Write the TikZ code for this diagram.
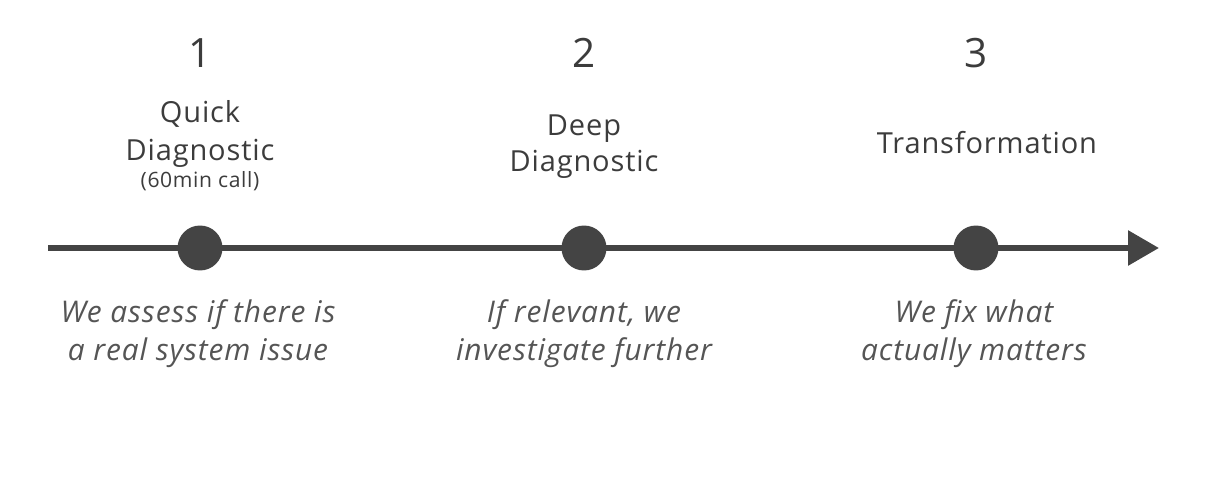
\documentclass[tikz,border=0pt]{standalone}
\usepackage{fontspec}
\setmainfont{Open Sans}
\newfontfamily\widefont[LetterSpace=3]{Open Sans}
\usetikzlibrary{arrows.meta}
\definecolor{darkgrey}{HTML}{444444}
\definecolor{textgrey}{HTML}{3C3C3C}
\definecolor{notegrey}{HTML}{555555}
\tikzset{
  stepdot/.style={circle, fill=darkgrey, inner sep=0pt, minimum size=0.9cm},
  stepnum/.style={anchor=base, text=textgrey, font=\fontsize{23}{27}\selectfont},
  steptitle/.style={anchor=base, text=textgrey, font=\widefont\fontsize{16.5}{19}\selectfont},
  stepsmall/.style={anchor=base, text=textgrey, font=\widefont\fontsize{12}{14}\selectfont},
  stepnote/.style={anchor=base, text=notegrey, font=\widefont\itshape\fontsize{17}{20}\selectfont}
}

\begin{document}
\begin{tikzpicture}[x=0.02cm, y=-0.02cm]
  \useasboundingbox (0,0) rectangle (1232,480);
  % timeline
  \coordinate (start) at (48,248); \coordinate (finish) at (1159,248);
  \draw[darkgrey, line width=0.12cm, -{Triangle[length=0.62cm, width=0.68cm]}] (start) -- (finish);
  \node[stepdot] (dot1) at (200,248) {}; \node[stepdot] (dot2) at (584,248) {}; \node[stepdot] (dot3) at (976,248) {};
  % numbers
  \node[stepnum] (num1) at (200,68) {1}; \node[stepnum] (num2) at (584,68) {2}; \node[stepnum] (num3) at (976,68) {3};
  % titles
  \node[steptitle] (quick) at (200,122) {Quick}; \node[steptitle] (diag1) at (200,160) {Diagnostic};
  \node[stepsmall] (call) at (200,187) {(60min call)};
  \node[steptitle] (deep) at (584,135) {Deep}; \node[steptitle] (diag2) at (584,171) {Diagnostic};
  \node[steptitle] (transf) at (987,153) {Transformation};
  % notes under the dots
  \node[stepnote] (note1a) at (198,322) {We assess if there is}; \node[stepnote] (note1b) at (198,360) {a real system issue};
  \node[stepnote] (note2a) at (584,322) {If relevant, we}; \node[stepnote] (note2b) at (584,360) {investigate further};
  \node[stepnote] (note3a) at (974,322) {We fix what}; \node[stepnote] (note3b) at (974,360) {actually matters};
\end{tikzpicture}
\end{document}
